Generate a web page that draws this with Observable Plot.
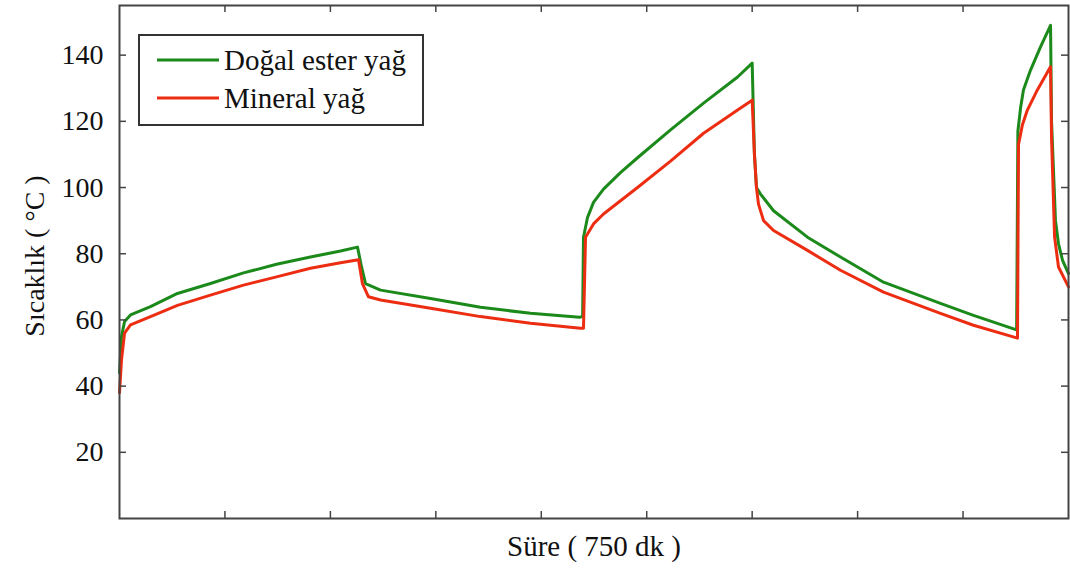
<!DOCTYPE html>
<html><head><meta charset="utf-8">
<script src="https://cdn.jsdelivr.net/npm/d3@7"></script>
<script src="https://cdn.jsdelivr.net/npm/@observablehq/plot@0.6"></script>
<style>body{margin:0;background:#fff} svg{display:block} svg text{font-family:"Liberation Serif","Times New Roman",Times,serif !important;}</style>
</head><body><div id="chart"></div><script>
// Time in minutes (0–750), temperature in °C
const esterT = [0,1.6,4.0,8.7,24.5,45.8,71.9,98.0,124.1,150.9,174.7,188.1,191.3,194.4,206.3,245.8,285.3,324.8,363.5,366.0,366.7,369.9,374.6,382.5,395.9,409.4,435.5,461.6,488.5,500.0,501.8,503.4,506.6,516.9,543.7,569.8,603.8,648.8,674.9,709.0,710.0,712.1,714.4,720.0,727.9,735.8,736.6,739.7,742.1,745.3,750];
const esterV = [44,55,59.5,61.5,64,68,71,74.2,76.8,79,80.8,82,76,71,69,66.5,63.8,62,60.8,61,85,91,95.5,99.5,104.5,109,117.4,125.5,133.4,137.6,110,100,98,93,85,79,71.4,65,61.4,57,117,124,129.5,135.5,142.5,149,120,90,83,78,74];
const mineralT = [0,1.6,4.0,8.7,24.5,45.8,71.9,98.0,124.1,150.9,174.7,188.9,192.0,196.8,206.3,245.8,285.3,324.8,364.3,366.7,368.3,374.6,382.5,409.4,435.5,461.6,488.5,500.0,501.8,503.4,505.0,509.0,516.9,543.7,569.8,603.8,648.8,674.9,709.7,710.5,713.6,717.5,725.4,735.8,736.6,739.0,742.1,750];
const mineralV = [38,48,56,58.5,61,64.4,67.5,70.5,73,75.6,77.3,78.2,71,67,66,63.5,61,59,57.5,57.5,85,89,92,100,108,116.4,123.4,126.4,110,100,95,90,87,81,75,68.4,62,58.4,54.5,113,119,123.4,129.5,136.5,115,85,76,70];
const seriesNames = ["Doğal ester yağ", "Mineral yağ"];
const seriesColors = ["#1b8a1b", "#ec2d12"];
const yTicks = [20,40,60,80,100,120,140];
const xTicks = [1,2,3,4,5,6,7,8].map(k => k*750/9);
const xLabel = "Süre ( 750 dk )";
const yLabel = "Sıcaklık ( °C )";

const ester = esterT.map((t,i) => ({t, v: esterV[i]}));
const mineral = mineralT.map((t,i) => ({t, v: mineralV[i]}));

const W = 1070, H = 577, mL = 119, mR = 2, mT = 5, mB = 59;
const pw = W - mL - mR, ph = H - mT - mB;
const axisCol = "#444";
const serif = "Liberation Serif, Times New Roman, Times, serif";

const chart = Plot.plot({
  width: W, height: H,
  marginLeft: mL, marginRight: mR, marginTop: mT, marginBottom: mB,
  style: {fontFamily: serif, fontSize: "28px", color: "#111", background: "#fff"},
  x: {domain: [0, 750], axis: null},
  y: {domain: [0, 155], axis: null},
  marks: [
    Plot.line(ester, {x: "t", y: "v", stroke: seriesColors[0], strokeWidth: 3}),
    Plot.line(mineral, {x: "t", y: "v", stroke: seriesColors[1], strokeWidth: 3}),
    Plot.ruleX(xTicks, {x: d => d, insetTop: ph - 7, stroke: axisCol, strokeWidth: 1.5}),
    Plot.ruleX(xTicks, {x: d => d, insetBottom: ph - 7, stroke: axisCol, strokeWidth: 1.5}),
    Plot.ruleY(yTicks, {y: d => d, insetRight: pw - 7, stroke: axisCol, strokeWidth: 1.5}),
    Plot.ruleY(yTicks, {y: d => d, insetLeft: pw - 7, stroke: axisCol, strokeWidth: 1.5}),
    Plot.frame({stroke: axisCol, strokeWidth: 2}),
    Plot.axisY(yTicks, {tickSize: 0, tickPadding: 16, fontSize: 28, label: null}),
    Plot.text([xLabel], {frameAnchor: "bottom", dy: 37, fontSize: 29, fill: "#111"}),
    Plot.text([yLabel], {frameAnchor: "left", textAnchor: "middle", dx: -84, dy: -6, rotate: -90, fontSize: 28, fill: "#111"})
  ]
});
document.getElementById("chart").appendChild(chart);

// Legend box
const svg = d3.select(chart);
const lg = svg.append("g").attr("font-family", serif).attr("font-size", 29).attr("text-anchor", "start");
lg.append("rect").attr("x", 139).attr("y", 35).attr("width", 284).attr("height", 90)
  .attr("fill", "#fff").attr("stroke", "#333").attr("stroke-width", 2);
seriesNames.forEach((name, i) => {
  const cy = 60 + i * 38;
  lg.append("line").attr("x1", 157).attr("x2", 219).attr("y1", cy).attr("y2", cy)
    .attr("stroke", seriesColors[i]).attr("stroke-width", 3);
  lg.append("text").attr("x", 224).attr("y", cy).attr("dy", "0.35em").attr("fill", "#111")
    .attr("text-anchor", "start").text(name);
});
</script></body></html>
